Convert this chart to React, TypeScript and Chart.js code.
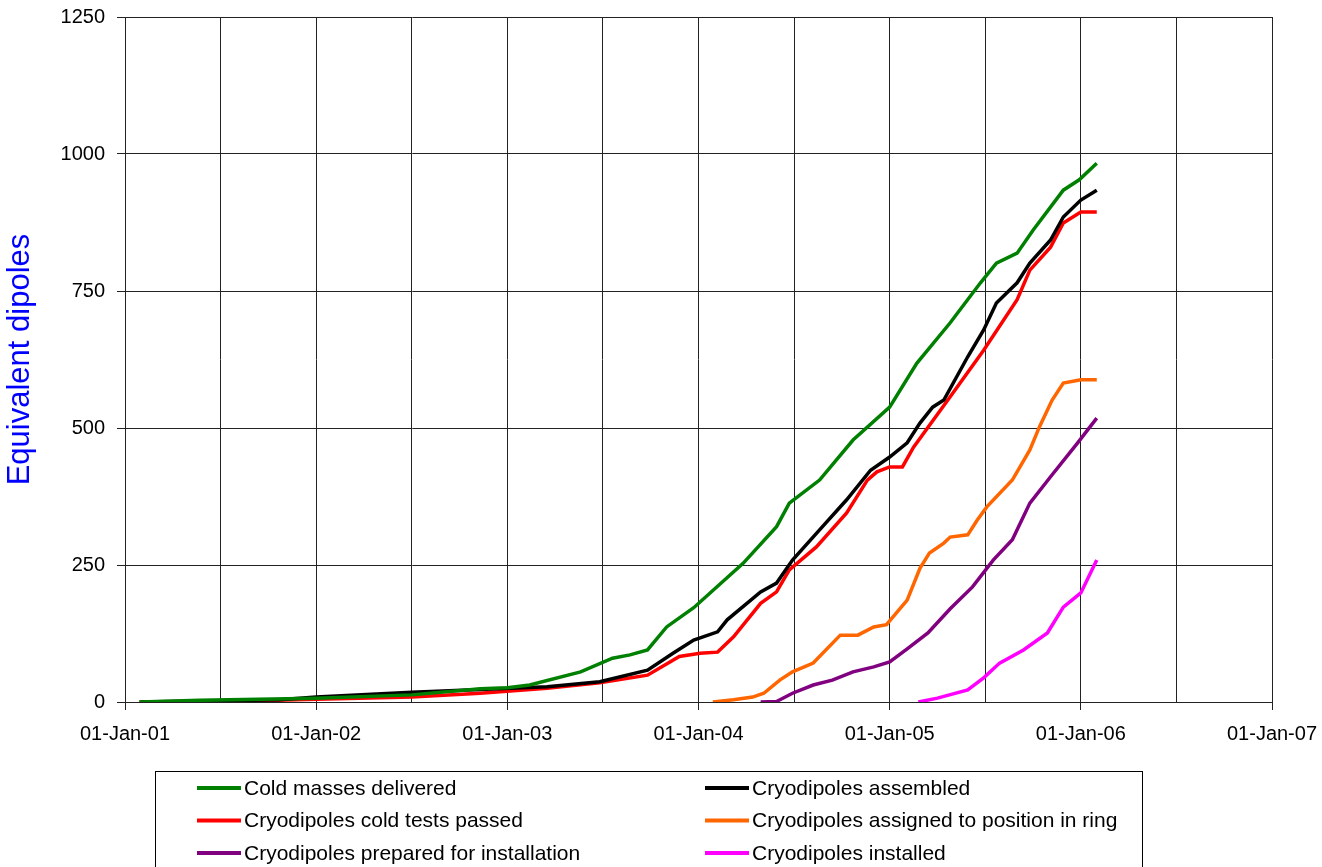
import { useEffect, useRef } from "react";
import { Chart, registerables } from "chart.js";

Chart.register(...registerables);

// x values are months elapsed since 01-Jan-2001
const xTickLabels = ["01-Jan-01", "01-Jan-02", "01-Jan-03", "01-Jan-04", "01-Jan-05", "01-Jan-06", "01-Jan-07"];
const yTickValues = [0, 250, 500, 750, 1000, 1250];

const seriesNames = [
  "Cold masses delivered",
  "Cryodipoles assembled",
  "Cryodipoles cold tests passed",
  "Cryodipoles assigned to position in ring",
  "Cryodipoles prepared for installation",
  "Cryodipoles installed",
];
const seriesColors = ["#008000", "#000000", "#FF0000", "#FF6600", "#800080", "#FF00FF"];

const coldMassesMonths = [0.9, 4.7, 12, 18, 22.3, 24, 25.4, 28.6, 30.6, 31.7, 32.8, 34, 35.7, 38.8, 40.9, 41.7, 43.6, 45.7, 48, 49.7, 51.8, 53.7, 54.7, 56, 57, 58.9, 59.9, 61];
const coldMassesValues = [0, 3, 7, 13, 24, 26, 31, 55, 80, 86, 95, 137, 172, 253, 320, 363, 405, 478, 538, 618, 692, 765, 801, 819, 861, 934, 953, 983];

const assembledMonths = [1, 9.7, 12, 18, 22.3, 26.5, 29.8, 32.8, 34.4, 35.7, 37.2, 37.8, 39.9, 40.9, 41.9, 43.6, 45.3, 46.8, 48, 49.1, 49.9, 50.7, 51.4, 52.9, 53.9, 54.7, 56, 56.8, 58.1, 58.9, 60, 61];
const assembledValues = [0, 4, 9, 18, 23, 28, 37, 58, 89, 113, 128, 150, 201, 217, 259, 314, 369, 423, 447, 473, 509, 538, 551, 630, 679, 728, 765, 801, 843, 885, 916, 934];

const coldTestsMonths = [0.9, 5.3, 12, 18, 22.3, 26.5, 29.8, 32.8, 34.8, 36.1, 37.2, 38.2, 39.9, 40.9, 41.7, 43.4, 45.3, 46.6, 47.2, 48, 48.8, 49.5, 51.8, 53.9, 56, 56.8, 58.1, 58.9, 60, 61];
const coldTestsValues = [0, 0, 5, 9, 16, 25, 35, 49, 83, 89, 91, 119, 180, 201, 241, 283, 345, 405, 420, 429, 429, 465, 557, 642, 734, 788, 830, 874, 894, 894];

const assignedMonths = [36.9, 38.2, 39.4, 40.1, 41.1, 41.9, 43.2, 44.9, 46, 47, 47.8, 49.1, 49.9, 50.5, 51.4, 51.8, 52.9, 53.5, 54.1, 55.7, 56.8, 57.4, 58.2, 58.9, 60, 61];
const assignedValues = [0, 4, 9, 16, 40, 55, 71, 122, 122, 137, 141, 186, 244, 272, 290, 301, 305, 332, 356, 405, 460, 502, 551, 582, 588, 588];

const preparedMonths = [39.9, 40.9, 41.9, 43.2, 44.4, 45.7, 47, 48, 49.1, 50.4, 51.8, 53.2, 54.5, 55.7, 56.8, 58.1, 59.8, 61];
const preparedValues = [0, 1, 16, 31, 40, 55, 64, 73, 97, 126, 170, 210, 259, 296, 363, 411, 473, 518];

const installedMonths = [49.8, 51, 52.9, 53.9, 54.9, 56.4, 57.9, 58.9, 60, 61];
const installedValues = [0, 7, 22, 44, 71, 95, 126, 173, 199, 259];

const seriesMonths = [coldMassesMonths, assembledMonths, coldTestsMonths, assignedMonths, preparedMonths, installedMonths];
const seriesValues = [coldMassesValues, assembledValues, coldTestsValues, assignedValues, preparedValues, installedValues];

const FONT = '"Liberation Sans", Arial, sans-serif';

const gridLegend = {
  id: "gridLegend",
  afterDraw(chart: any) {
    const ctx = chart.ctx as CanvasRenderingContext2D;
    const area = chart.chartArea;
    const boxLeft = 155;
    const boxRight = 1142;
    const boxTop = area.bottom + 69;
    ctx.save();
    ctx.strokeStyle = "#000";
    ctx.lineWidth = 1;
    ctx.strokeRect(boxLeft + 0.5, boxTop + 0.5, boxRight - boxLeft, 200);
    ctx.font = `21px ${FONT}`;
    ctx.textBaseline = "middle";
    ctx.textAlign = "left";
    chart.data.datasets.forEach((ds: any, i: number) => {
      const col = i % 2;
      const row = Math.floor(i / 2);
      const x = col === 0 ? 197 : 705;
      const y = boxTop + 17 + row * 32.5;
      ctx.strokeStyle = ds.borderColor;
      ctx.lineWidth = 4;
      ctx.beginPath();
      ctx.moveTo(x, y);
      ctx.lineTo(x + 44, y);
      ctx.stroke();
      ctx.fillStyle = "#000";
      ctx.fillText(ds.label, x + 47, y + 1);
    });
    ctx.restore();
  },
};

export default function App() {
  const ref = useRef<HTMLCanvasElement | null>(null);
  useEffect(() => {
    document.body.style.margin = "0";
    const canvas = ref.current;
    if (!canvas) return;
    const chart = new Chart(canvas, {
      type: "line",
      data: {
        datasets: seriesNames.map((name, i) => ({
          label: name,
          data: seriesMonths[i].map((m, j) => ({ x: m, y: seriesValues[i][j] })),
          borderColor: seriesColors[i],
          backgroundColor: seriesColors[i],
          borderWidth: 3.5,
          pointRadius: 0,
          tension: 0,
          fill: false,
        })),
      },
      options: {
        animation: false,
        responsive: false,
        devicePixelRatio: 1,
        layout: { padding: { top: 17, right: 50, bottom: 105, left: 0 } },
        plugins: {
          legend: { display: false },
          tooltip: { enabled: false },
        },
        scales: {
          x: {
            type: "linear",
            min: 0,
            max: 72,
            afterFit: (scale: any) => {
              scale.height = 60;
              scale.paddingLeft = 0;
              scale.paddingRight = 0;
            },
            afterBuildTicks: (scale: any) => {
              const t = [];
              for (let v = 0; v <= 72; v += 6) t.push({ value: v });
              scale.ticks = t;
            },
            ticks: {
              autoSkip: false,
              maxRotation: 0,
              minRotation: 0,
              padding: 12,
              color: "#000",
              font: { family: FONT, size: 20 },
              callback: (v: any) => (Number(v) % 12 === 0 ? xTickLabels[Number(v) / 12] : ""),
            },
            grid: {
              color: "#222",
              lineWidth: 1,
              tickLength: 8,
              tickColor: (c: any) => (c.tick && c.tick.value % 12 === 0 ? "#222" : "rgba(0,0,0,0)"),
            },
            border: { color: "#222", width: 1 },
          },
          y: {
            min: 0,
            max: 1250,
            afterFit: (scale: any) => {
              scale.width = 125;
              scale.paddingTop = 0;
              scale.paddingBottom = 0;
            },
            afterBuildTicks: (scale: any) => {
              scale.ticks = yTickValues.map((v) => ({ value: v }));
            },
            ticks: {
              padding: 12,
              color: "#000",
              font: { family: FONT, size: 20 },
              callback: (v: any) => String(v),
            },
            grid: { color: "#222", lineWidth: 1, tickLength: 8 },
            border: { color: "#222", width: 1 },
            title: {
              display: true,
              text: "Equivalent dipoles",
              color: "#0000FF",
              font: { family: FONT, size: 31 },
              padding: { top: 2, bottom: 0 },
            },
          },
        },
      },
      plugins: [gridLegend],
    });
    return () => chart.destroy();
  }, []);
  return <canvas ref={ref} width={1322} height={867} style={{ display: "block" }} />;
}
